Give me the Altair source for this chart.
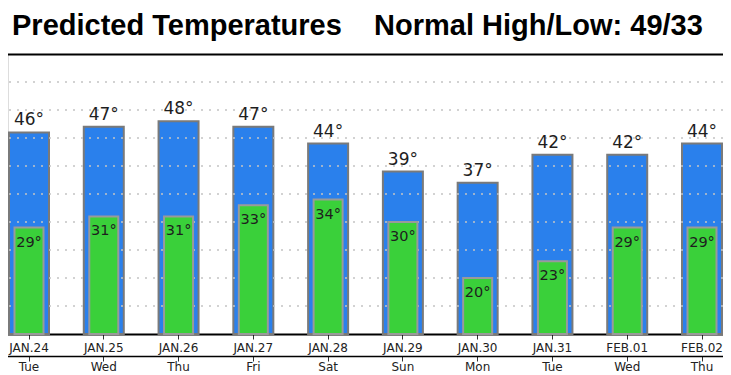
import altair as alt
import pandas as pd

# ---- data ----
dates = ["JAN.24", "JAN.25", "JAN.26", "JAN.27", "JAN.28",
         "JAN.29", "JAN.30", "JAN.31", "FEB.01", "FEB.02"]
days = ["Tue", "Wed", "Thu", "Fri", "Sat", "Sun", "Mon", "Tue", "Wed", "Thu"]
highs = [46, 47, 48, 47, 44, 39, 37, 42, 42, 44]
lows = [29, 31, 31, 33, 34, 30, 20, 23, 29, 29]
grid_values = [15, 20, 25, 30, 35, 40, 45, 50, 55]
top_value = [60]
base_value = 10
title_left = "Predicted Temperatures"
title_right = "Normal High/Low: 49/33"

keys = [f"{d} {w}" for d, w in zip(dates, days)]
df = pd.DataFrame({
    "key": keys,
    "high": highs,
    "low": lows,
    "high_lbl": [f"{v}°" for v in highs],
    "low_lbl": [f"{v}°" for v in lows],
})
grid_df = pd.DataFrame({"g": grid_values})

W, H = 715, 280
first_center, last_center = 21, 694
step = (last_center - first_center) / 9
xscale = alt.Scale(range=[first_center - step / 2, last_center + step / 2],
                   paddingInner=0, paddingOuter=0)
yscale = alt.Scale(domain=[base_value, 60], zero=False, nice=False)

BLUE = "#2A80EC"
GREEN = "#3AD03A"
FONT = "DejaVu Sans"

yaxis = alt.Axis(values=top_value, grid=True, gridColor="black", gridWidth=2,
                 labels=False, ticks=False, domain=False, title=None)

axis_date = alt.Axis(title=None, orient="bottom", labelExpr="slice(datum.label, 0, 6)",
                     domainColor="black", domainWidth=2, tickColor="#333",
                     tickSize=5, tickWidth=1, labelFont=FONT, labelFontSize=12,
                     labelColor="#222", labelPadding=3, labelAngle=0, grid=False)
axis_day = alt.Axis(title=None, orient="bottom", labelExpr="slice(datum.label, 7)", offset=22,
                    domainColor="black", domainWidth=1.5, tickColor="#333",
                    tickSize=5, tickWidth=1, labelFont=FONT, labelFontSize=12,
                    labelColor="#222", labelPadding=0, labelAngle=0, grid=False)

blue = alt.Chart(df).mark_bar(color=BLUE, stroke="#7a7a7a", strokeWidth=2,
                              width=40).encode(
    x=alt.X("key:N", sort=keys, scale=xscale, axis=axis_date),
    y=alt.Y("high:Q", scale=yscale, axis=yaxis),
    y2=alt.datum(base_value),
)

grid = alt.Chart(grid_df).mark_rule(color="#c4c4c4", strokeWidth=1.5,
                                    strokeDash=[2, 6]).encode(
    y=alt.Y("g:Q", scale=yscale, axis=yaxis),
)

green = alt.Chart(df).mark_bar(color=GREEN, stroke="#9a9a9a", strokeWidth=2,
                               width=29).encode(
    x=alt.X("key:N", sort=keys, scale=xscale, axis=axis_day),
    y=alt.Y("low:Q", scale=yscale, axis=yaxis),
    y2=alt.datum(base_value),
)

high_txt = alt.Chart(df).mark_text(font=FONT, fontSize=17, color="#1e1e1e",
                                   baseline="alphabetic", dy=-7).encode(
    x=alt.X("key:N", sort=keys, scale=xscale, axis=None),
    y=alt.Y("high:Q", scale=yscale, axis=yaxis),
    text="high_lbl:N",
)

low_txt = alt.Chart(df).mark_text(font=FONT, fontSize=14.5, color="#1e1e1e",
                                  baseline="alphabetic", dy=19).encode(
    x=alt.X("key:N", sort=keys, scale=xscale, axis=None),
    y=alt.Y("low:Q", scale=yscale, axis=yaxis),
    text="low_lbl:N",
)

chart = alt.layer(blue, grid, green, high_txt, low_txt).resolve_axis(
    x="independent"
).properties(
    width=W,
    height=H,
    padding={"left": 0, "top": 46, "right": 0, "bottom": 38},
    autosize=alt.AutoSizeParams(type="none"),
    title=alt.TitleParams(
        text=title_left + "\u00a0\u00a0\u00a0\u00a0" + title_right,
        anchor="start", frame="group", font="Liberation Sans", fontSize=29,
        fontWeight="bold", color="black", baseline="alphabetic", offset=-10, dx=4,
    ),
).configure_view(stroke=None).configure(background="white")

chart.save("out.html", embed_options={"renderer": "svg", "actions": False})
